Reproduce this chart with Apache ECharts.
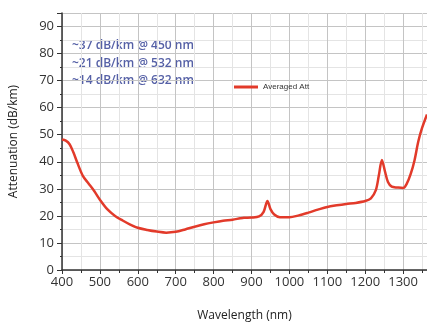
<!DOCTYPE html>
<html>
<head>
<meta charset="utf-8">
<script src="https://cdn.jsdelivr.net/npm/echarts@6/dist/echarts.min.js"></script>
<style>
  html, body { margin: 0; padding: 0; background: #fff; }
  #chart { width: 427px; height: 324px; }
</style>
</head>
<body>
<div id="chart"></div>
<script>
// wavelength (nm) and averaged attenuation (dB/km)
var wavelength = [400, 410, 420, 430, 440, 455, 470, 485, 500, 520, 540, 560, 580, 600, 625, 650, 675, 700,
  725, 750, 775, 800, 825, 850, 870, 880, 900, 920, 932, 942, 950, 960, 975, 1000, 1025, 1050, 1075,
  1100, 1125, 1150, 1175, 1200, 1215, 1228, 1236, 1244, 1252, 1260, 1270, 1285, 1300, 1310, 1320,
  1330, 1340, 1350, 1363];
var attenuation = [48.2, 47.8, 46.5, 43.5, 39.8, 34.8, 32.0, 29.2, 26.0, 22.4, 20.0, 18.3, 16.8, 15.6, 14.8, 14.2, 13.8, 14.1,
  15.0, 16.0, 16.9, 17.6, 18.2, 18.6, 19.1, 19.3, 19.4, 19.8, 21.5, 25.5, 22.5, 20.5, 19.5, 19.5, 20.2, 21.2, 22.3,
  23.3, 23.9, 24.4, 24.8, 25.5, 26.5, 29.5, 35.0, 40.7, 36.5, 32.5, 30.8, 30.5, 30.3, 32.0, 35.5,
  40.5, 47.5, 52.5, 57.5];
var notes = ['~37 dB/km @ 450 nm', '~21 dB/km @ 532 nm', '~14 dB/km @ 632 nm'];
var seriesName = 'Averaged Att';

var chart = echarts.init(document.getElementById('chart'));

var points = [];
for (var i = 0; i < wavelength.length; i++) {
  points.push([wavelength[i], attenuation[i]]);
}

var labelFont = { color: '#333', fontSize: 13, fontFamily: 'Open Sans' };

var option = {
  animation: false,
  backgroundColor: '#fff',
  grid: { left: 62, right: 0, top: 13, bottom: 54, outerBoundsMode: 'none', containLabel: false },
  legend: {
    data: [seriesName],
    left: 229, top: 78,
    itemWidth: 24, itemHeight: 3, itemGap: 4,
    icon: 'rect',
    textStyle: { fontSize: 8, color: '#333', fontFamily: 'Liberation Sans' }
  },
  xAxis: {
    type: 'value',
    min: 400, max: 1363, interval: 100,
    name: 'Wavelength (nm)',
    nameLocation: 'middle', nameGap: 40,
    nameTextStyle: { fontSize: 12, color: '#222', fontFamily: 'Open Sans' },
    axisLine: { lineStyle: { color: '#333', width: 1.5 } },
    axisTick: { length: 4, lineStyle: { color: '#333' } },
    minorTick: { show: true, splitNumber: 2, length: 3, lineStyle: { color: '#333' } },
    axisLabel: Object.assign({
      margin: 6, showMaxLabel: false,
      formatter: function (v) { return String(v); }
    }, labelFont),
    splitLine: { lineStyle: { color: '#c4c4c4' } },
    minorSplitLine: { show: true, lineStyle: { color: '#e4e4e4' } }
  },
  yAxis: {
    type: 'value',
    min: 0, max: 95, interval: 10,
    name: 'Attenuation (dB/km)',
    nameLocation: 'middle', nameGap: 42,
    nameTextStyle: { fontSize: 12, color: '#222', fontFamily: 'Open Sans' },
    axisLine: { show: true, lineStyle: { color: '#333', width: 1.5 } },
    axisTick: { show: true, length: 5, lineStyle: { color: '#333' } },
    minorTick: { show: true, splitNumber: 2, length: 2, lineStyle: { color: '#333' } },
    axisLabel: Object.assign({ margin: 8, showMaxLabel: false }, labelFont),
    splitLine: { lineStyle: { color: '#c4c4c4' } },
    minorSplitLine: { show: true, lineStyle: { color: '#e4e4e4' } }
  },
  graphic: notes.map(function (t, k) {
    return {
      type: 'text', left: 72, top: 40 + k * 17.5,
      style: { text: t, fill: '#5560a6', font: '600 12px "Open Sans"' }
    };
  }),
  series: [{
    name: seriesName,
    type: 'line',
    data: points,
    smooth: 0.3,
    showSymbol: false,
    color: '#e23a2a',
    lineStyle: { color: '#e23a2a', width: 2.5 }
  }]
};

chart.setOption(option);
</script>
</body>
</html>
